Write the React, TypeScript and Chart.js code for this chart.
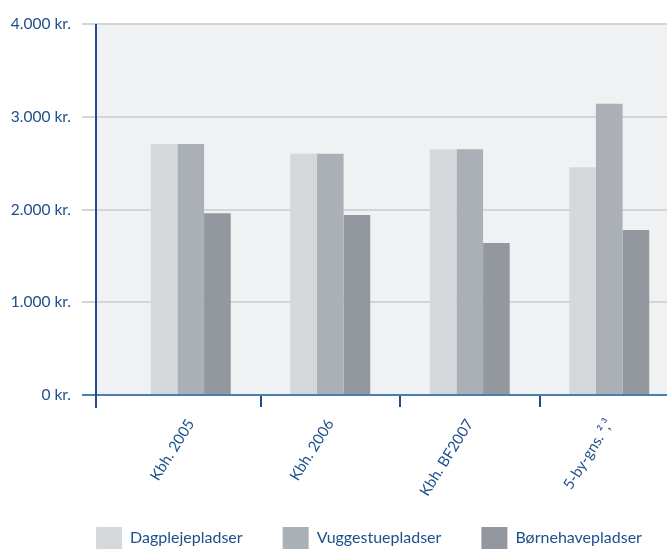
import React, { useEffect, useRef } from 'react';
import { Chart, registerables } from 'chart.js';

Chart.register(...registerables);

const categories = ['Kbh. 2005', 'Kbh. 2006', 'Kbh. BF2007', '5-by-gns. ²,³'];
const seriesNames = ['Dagplejepladser', 'Vuggestuepladser', 'Børnehavepladser'];
const dagpleje = [2705, 2600, 2650, 2455];
const vuggestue = [2705, 2600, 2650, 3140];
const boernehave = [1960, 1940, 1640, 1780];
const yMin = 0;
const yMax = 4000;
const yStep = 1000;

const NAVY = '#1e4f8b';
const AXIS_BLUE = '#4a7fb2';
const GRID = '#d3d5d8';
const PLOT_BG = '#f0f1f3';
const COLORS = ['#d5d8db', '#aab0b6', '#92989e'];
const FONT = 'Lato, "Open Sans", sans-serif';

function formatKr(v: number): string {
  return String(v).replace(/\B(?=(\d{3})+(?!\d))/g, '.') + ' kr.';
}

const plotDecor = {
  id: 'plotDecor',
  beforeDraw(chart: any) {
    const { ctx, chartArea } = chart;
    // let rotated category labels run below the axis box
    if (chart.scales.x) chart.scales.x._computeLabelArea = () => undefined;
    ctx.save();
    ctx.fillStyle = PLOT_BG;
    ctx.fillRect(chartArea.left - 25, chartArea.top, chartArea.right - chartArea.left + 25, chartArea.bottom - chartArea.top);
    ctx.restore();
  },
  afterDatasetsDraw(chart: any) {
    const { ctx, chartArea } = chart;
    ctx.save();
    ctx.strokeStyle = NAVY;
    ctx.lineWidth = 2;
    ctx.beginPath();
    ctx.moveTo(chartArea.left - 25, chartArea.top);
    ctx.lineTo(chartArea.left - 25, chartArea.bottom + 13);
    ctx.stroke();
    ctx.restore();
  },
};

export default function App() {
  const canvasRef = useRef<HTMLCanvasElement | null>(null);

  useEffect(() => {
    const canvas = canvasRef.current;
    if (!canvas) return;
    const series = [dagpleje, vuggestue, boernehave];
    const chart = new Chart(canvas, {
      type: 'bar',
      data: {
        labels: categories,
        datasets: series.map((d, i) => ({
          label: seriesNames[i],
          data: d,
          backgroundColor: COLORS[i],
          borderWidth: 0,
          barPercentage: 1,
          categoryPercentage: 0.573,
          yAxisID: 'y',
        })),
      },
      options: {
        responsive: false,
        animation: false,
        layout: { padding: { left: 0, right: 0, top: 24, bottom: 0 } },
        plugins: {
          legend: {
            position: 'bottom',
            labels: {
              boxWidth: 26,
              boxHeight: 22,
              padding: 40,
              color: NAVY,
              font: { family: FONT, size: 16 },
            },
          },
          tooltip: { enabled: false },
        },
        scales: {
          x: {
            grid: {
              display: true,
              drawOnChartArea: false,
              drawTicks: true,
              tickLength: 12,
              lineWidth: 2,
              color: (c: any) => (c.index === 0 ? 'rgba(0,0,0,0)' : NAVY),
              offset: true,
            },
            border: { display: false },
            ticks: {
              color: NAVY,
              font: { family: FONT, size: 15 },
              minRotation: 58,
              maxRotation: 58,
              padding: 9,
            },
            afterFit: (scale: any) => {
              scale.height = 92;
            },
          },
          y: {
            min: yMin,
            max: yMax,
            grid: {
              color: (c: any) => (c.tick && c.tick.value === 0 ? AXIS_BLUE : GRID),
              lineWidth: 2,
              drawTicks: true,
              tickLength: 39,
            },
            border: { display: false },
            ticks: {
              stepSize: yStep,
              color: NAVY,
              font: { family: FONT, size: 15.5 },
              padding: 11,
              callback: (v: any) => formatKr(Number(v)),
            },
            afterFit: (scale: any) => {
              scale.width = 121;
            },
          },
          spacer: {
            type: 'linear',
            position: 'right',
            display: true,
            grid: { display: false, drawTicks: false },
            border: { display: false },
            ticks: { display: false },
            afterFit: (scale: any) => {
              scale.width = 59;
            },
          },
        },
      },
      plugins: [plotDecor],
    });
    return () => chart.destroy();
  }, []);

  return (
    <div style={{ position: 'fixed', left: 0, top: 0, width: 667, height: 549, overflow: 'hidden', background: '#ffffff' }}>
      <canvas ref={canvasRef} width={738} height={559} style={{ display: 'block' }} />
    </div>
  );
}
